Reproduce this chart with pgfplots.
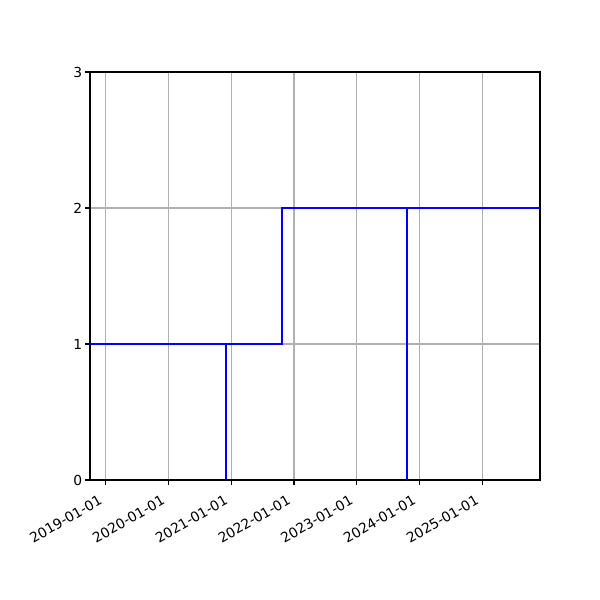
\documentclass[border=0pt]{standalone}
\usepackage{pgfplots}
\pgfplotsset{compat=1.18}
\usepackage{fontspec}
\setmainfont{DejaVu Sans}

% x is days since 2019-01-01
\begin{document}
\begin{tikzpicture}
\path[use as bounding box] (0,0) rectangle (432bp,432bp);
\begin{axis}[
    at={(64.8bp,86.4bp)}, anchor=south west,
    scale only axis,
    width=324bp, height=293.76bp,
    xmin=-91, xmax=2528,
    ymin=0, ymax=3,
    xtick={0,365,731,1096,1461,1826,2192},
    xticklabels={2019-01-01,2020-01-01,2021-01-01,2022-01-01,2023-01-01,2024-01-01,2025-01-01},
    ytick={0,1,2,3},
    grid=major,
    grid style={color=black!31, line width=0.8bp},
    axis line style={line width=0.8bp},
    tick style={black, line width=0.8bp},
    tick align=outside,
    major tick length=3.5bp,
    xtick pos=bottom, ytick pos=left,
    tick label style={font=\fontsize{10}{12}\selectfont},
    xticklabel style={xshift=-1.5bp, yshift=-13.5bp, rotate=30, anchor=south east, inner sep=0pt},
    /pgf/number format/assume math mode=true,
    yticklabel style={inner sep=2bp},
]
\addplot[const plot, blue, line width=1.7bp] coordinates {
    (-91,1) (702,1) (702,0) (702,1) (1028,1) (1028,2)
    (1754,2) (1754,0) (1754,2) (2528,2)
};
\end{axis}
\end{tikzpicture}
\end{document}
